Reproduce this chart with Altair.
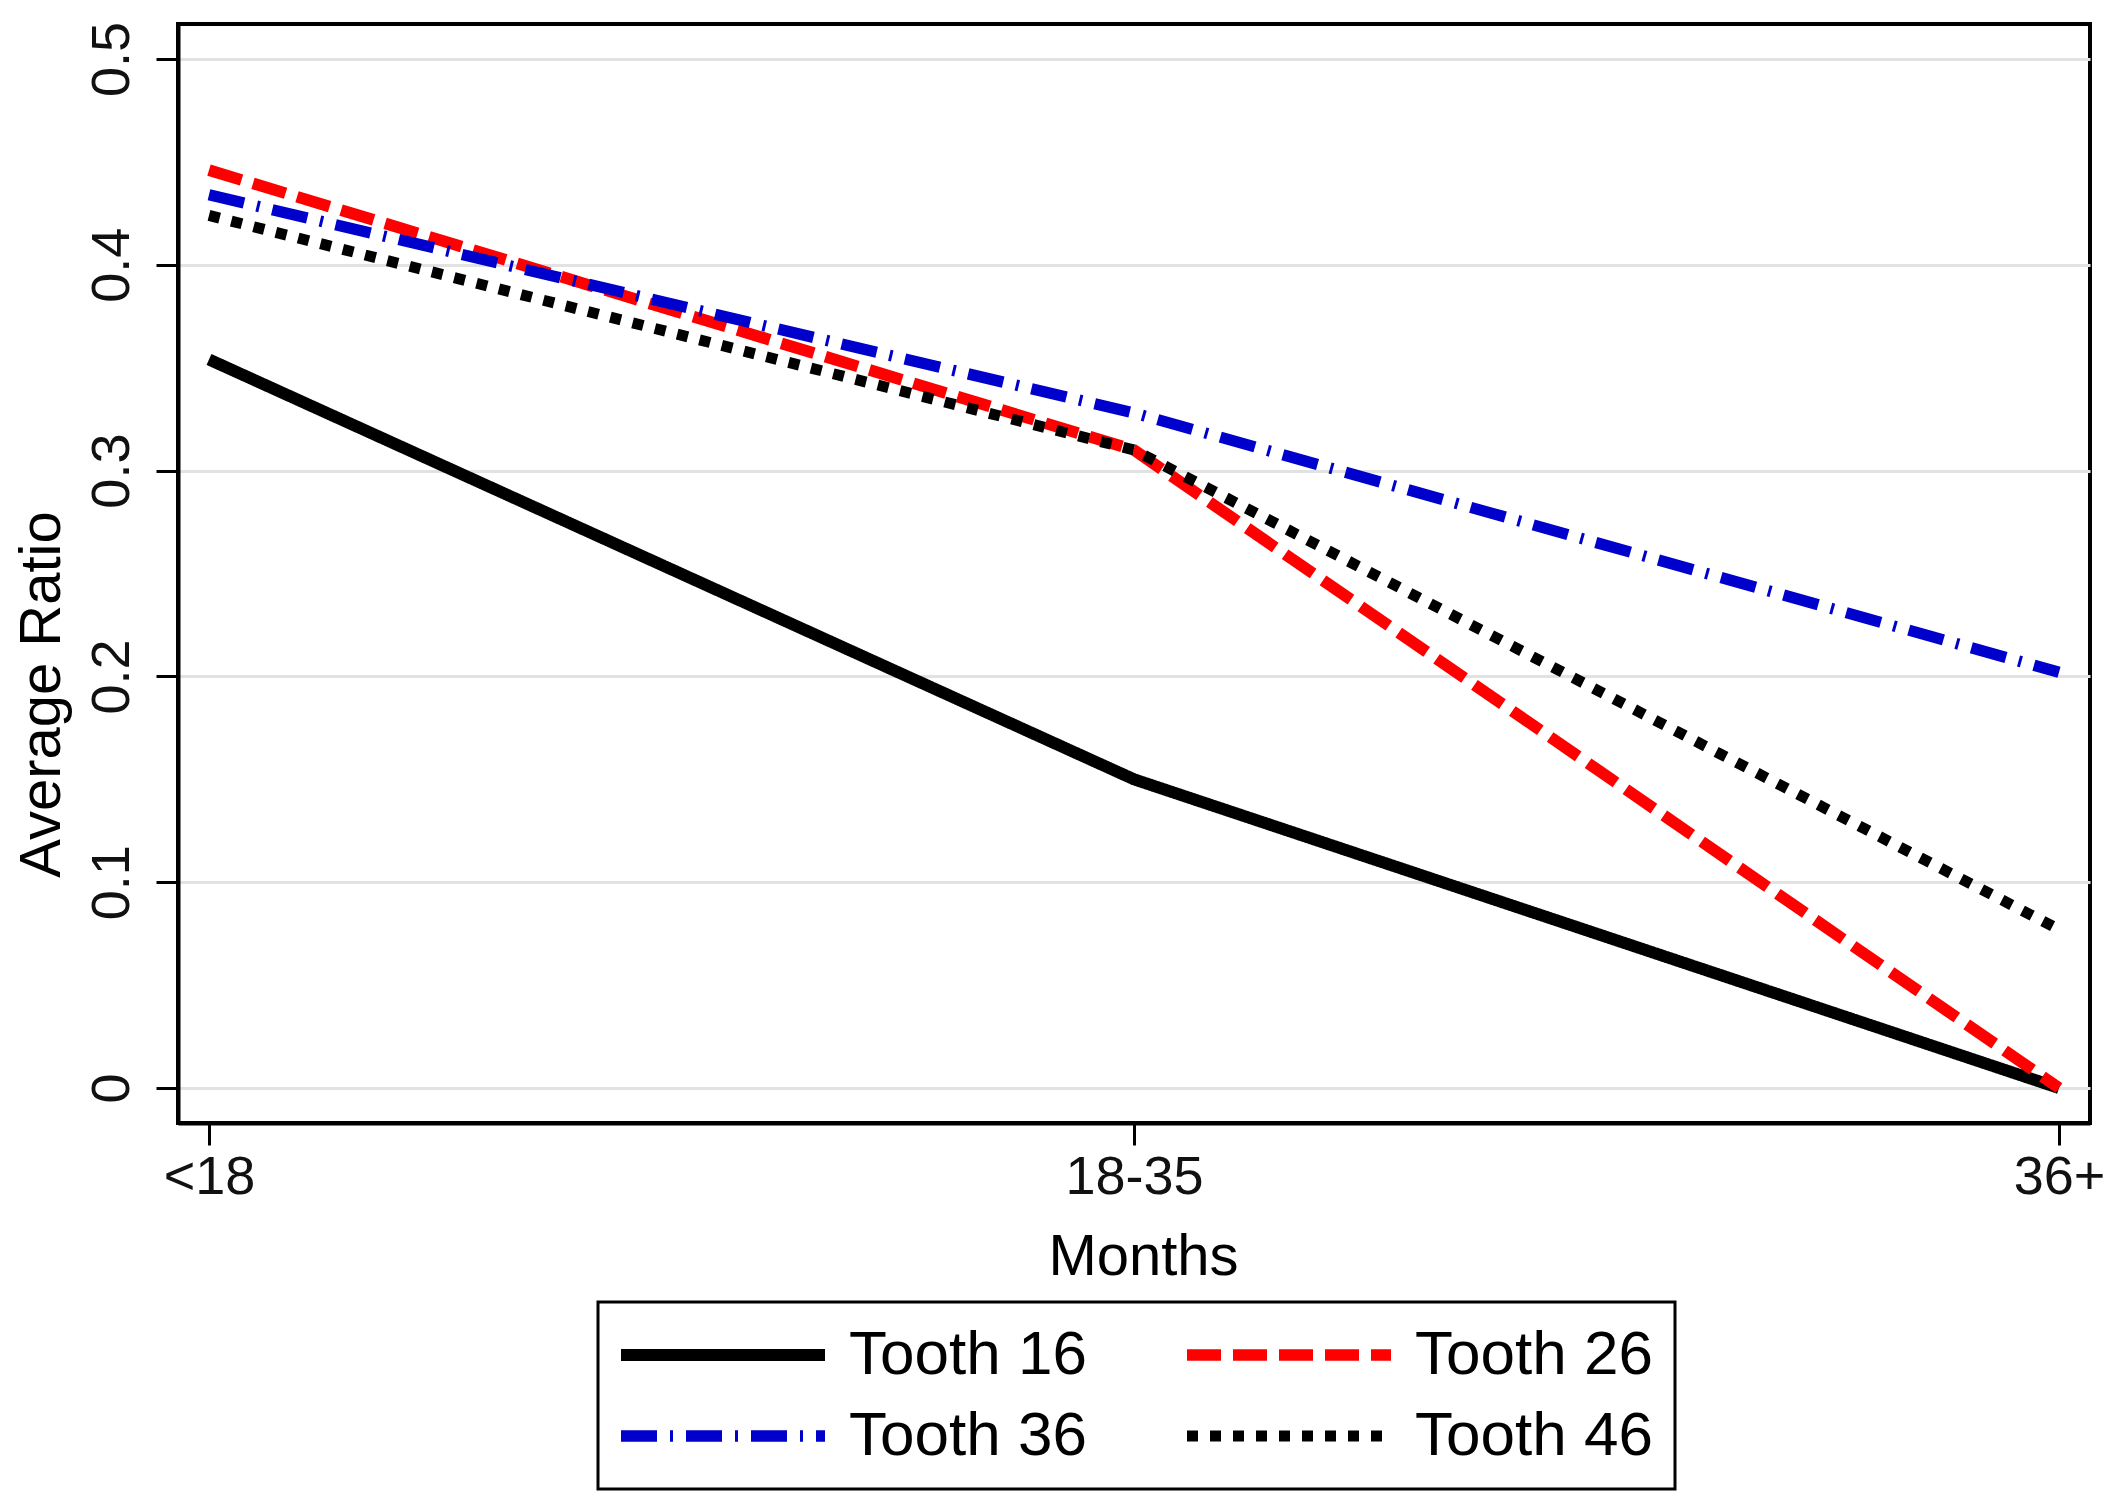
import altair as alt
import pandas as pd

months = ["<18", "18-35", "36+"]
teeth = ["Tooth 16", "Tooth 26", "Tooth 36", "Tooth 46"]
tooth16 = [0.354, 0.150, 0.000]
tooth26 = [0.446, 0.310, 0.000]
tooth36 = [0.434, 0.328, 0.202]
tooth46 = [0.424, 0.310, 0.077]
y_ticks = [0, 0.1, 0.2, 0.3, 0.4, 0.5]

line_colors = ["#000000", "#ff0000", "#0000cc", "#000000"]
line_dashes = [[1, 0], [34, 12], [36, 13, 3, 13], [11, 12]]
line_widths = [12, 11, 10.5, 11]

rows = []
for name, vals in zip(teeth, [tooth16, tooth26, tooth36, tooth46]):
    for m, v in zip(months, vals):
        rows.append({"months": m, "ratio": v, "tooth": name})
df = pd.DataFrame(rows)

FONT = "Liberation Sans"

legend = alt.Legend(
    title=None,
    orient="none",
    legendX=420,
    legendY=1278,
    columns=2,
    direction="horizontal",
    symbolType="M-6,0H6",
    symbolSize=1156,
    symbolOffset=72,
    symbolStrokeWidth=12,
    labelOffset=95,
    labelFontSize=62,
    labelFont=FONT,
    labelColor="#000000",
    labelLimit=500,
    columnPadding=76,
    rowPadding=19,
    padding=22,
    strokeColor="#000000",
    fillColor="#ffffff",
)

chart = (
    alt.Chart(df)
    .mark_line(strokeCap="butt", strokeJoin="miter")
    .encode(
        x=alt.X(
            "months:N",
            sort=months,
            scale=alt.Scale(type="point", domain=months, padding=0.0335),
            axis=alt.Axis(
                title="Months",
                labelAngle=0,
                labelFontSize=54,
                labelFont=FONT,
                labelColor="#111111",
                labelPadding=5,
                tickSize=22,
                tickWidth=3,
                tickColor="#000000",
                domainColor="#000000",
                domainWidth=4,
                grid=False,
                titleFont=FONT,
                titleFontSize=58,
                titleFontWeight="normal",
                titleColor="#000000",
                titleX=965,
                titleY=151,
                titleAlign="center",
                titleBaseline="alphabetic",
            ),
        ),
        y=alt.Y(
            "ratio:Q",
            scale=alt.Scale(domain=[-0.017, 0.517], nice=False, zero=False),
            axis=alt.Axis(
                values=y_ticks,
                labelExpr="datum.value == 0 ? '0' : format(datum.value, '.1f')",
                labelAngle=270,
                labelAlign="center",
                labelBaseline="alphabetic",
                labelPadding=28,
                labelFontSize=54,
                labelFont=FONT,
                labelColor="#111111",
                tickSize=22,
                tickWidth=3,
                tickColor="#000000",
                domainColor="#000000",
                domainWidth=4,
                grid=True,
                gridColor="#e2e2e2",
                gridWidth=3,
                title="Average Ratio",
                titleFont=FONT,
                titleFontSize=58,
                titleFontWeight="normal",
                titleColor="#000000",
                titleAngle=270,
                titleX=-136,
                titleY=670,
                titleAlign="center",
                titleBaseline="middle",
            ),
        ),
        color=alt.Color(
            "tooth:N",
            scale=alt.Scale(domain=teeth, range=line_colors),
            legend=legend,
        ),
        strokeDash=alt.StrokeDash(
            "tooth:N",
            scale=alt.Scale(domain=teeth, range=line_dashes),
            legend=legend,
        ),
        strokeWidth=alt.StrokeWidth(
            "tooth:N",
            scale=alt.Scale(domain=teeth, range=line_widths),
            legend=None,
        ),
    )
    .properties(
        width=1912,
        height=1099,
        autosize=alt.AutoSizeParams(type="none"),
        padding={"left": 170, "top": 16, "right": 16, "bottom": 372},
        background="#ffffff",
    )
    .configure_view(stroke="#000000", strokeWidth=4)
    .configure_legend(strokeWidth=3)
)

chart.save("out.html", embed_options={"renderer": "svg", "actions": False})
